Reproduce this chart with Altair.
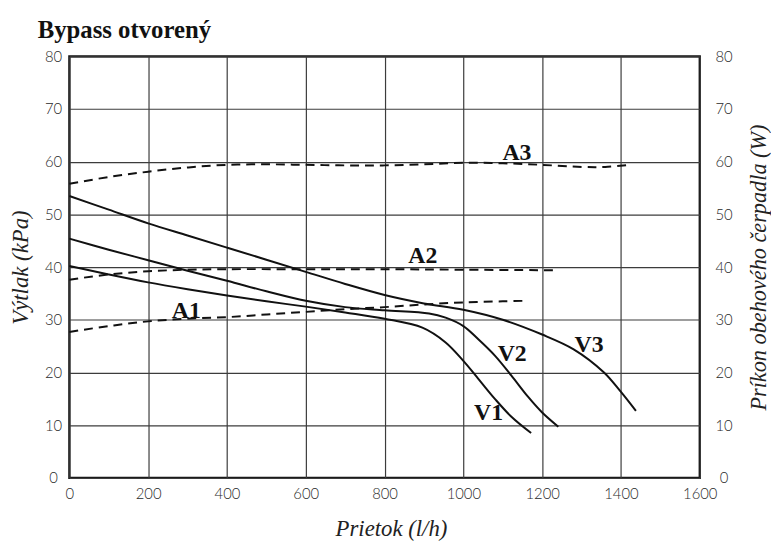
import altair as alt
import pandas as pd

# ---- data ----
# pressure curves (left axis, kPa)
v1_flow = [0, 100, 200, 300, 400, 500, 600, 700, 800, 896, 955, 1000, 1038, 1080, 1122, 1172]
v1_kpa = [40.2, 38.6, 37.1, 35.8, 34.6, 33.5, 32.5, 31.4, 30.2, 28.5, 25.7, 22.2, 18.8, 15.0, 11.6, 8.5]

v2_flow = [0, 100, 200, 300, 400, 500, 600, 700, 800, 913, 955, 1000, 1038, 1080, 1122, 1164, 1200, 1241]
v2_kpa = [45.4, 43.3, 41.3, 39.3, 37.4, 35.4, 33.6, 32.4, 31.8, 31.2, 30.4, 28.8, 26.3, 23.2, 19.4, 15.4, 12.4, 9.7]

v3_flow = [0, 100, 200, 300, 400, 500, 600, 700, 800, 900, 1000, 1100, 1200, 1280, 1357, 1400, 1438]
v3_kpa = [53.5, 50.9, 48.3, 46.0, 43.7, 41.4, 39.1, 36.8, 34.7, 33.1, 31.9, 30.0, 27.2, 24.4, 20.0, 16.3, 12.7]

# power curves (right axis, W)
a1_flow = [0, 100, 200, 300, 400, 500, 600, 700, 800, 900, 1000, 1100, 1156]
a1_w = [27.7, 28.8, 29.7, 30.2, 30.5, 31.0, 31.5, 32.0, 32.4, 32.9, 33.3, 33.5, 33.6]

a2_flow = [0, 100, 200, 300, 400, 600, 800, 1000, 1240]
a2_w = [37.6, 38.6, 39.2, 39.5, 39.6, 39.6, 39.6, 39.5, 39.4]

a3_flow = [0, 100, 200, 300, 400, 500, 600, 700, 800, 900, 1000, 1100, 1200, 1300, 1360, 1420]
a3_w = [55.8, 57.1, 58.1, 58.9, 59.4, 59.5, 59.4, 59.3, 59.3, 59.5, 59.8, 59.7, 59.4, 59.0, 59.0, 59.4]

# curve labels
label_text = ["V1", "V2", "V3", "A1", "A2", "A3"]
label_flow = [1064, 1124, 1319, 297, 897, 1136]
label_val = [10.95, 22.2, 23.8, 30.4, 40.7, 60.4]

x_ticks = [0, 200, 400, 600, 800, 1000, 1200, 1400, 1600]
y_ticks = [0, 10, 20, 30, 40, 50, 60, 70, 80]


def long(series):
    rows = []
    for name, xs, ys in series:
        for x, y in zip(xs, ys):
            rows.append({"series": name, "flow": x, "value": y})
    return pd.DataFrame(rows)


df_v = long([("V1", v1_flow, v1_kpa), ("V2", v2_flow, v2_kpa), ("V3", v3_flow, v3_kpa)])
df_a = long([("A1", a1_flow, a1_w), ("A2", a2_flow, a2_w), ("A3", a3_flow, a3_w)])
df_lab = pd.DataFrame({"label": label_text, "flow": label_flow, "value": label_val})

SERIF = "Liberation Serif"
SANS = "Lato"
INK = "#111111"
GRID = "#3c3c3c"
LABEL = "#2a2a2a"

xscale = alt.Scale(domain=[0, 1600], nice=False, zero=False)
yscale = alt.Scale(domain=[0, 80], nice=False)

x_axis = alt.Axis(
    values=x_ticks, format="d", title="Prietok (l/h)", grid=True, gridColor=GRID, gridWidth=1.2,
    domain=False, ticks=False, labelFont=SANS, labelFontWeight=300, labelFontSize=15,
    labelColor=LABEL, labelPadding=9, labelFlush=False, labelOverlap=False,
    titleFont=SERIF, titleFontStyle="italic", titleFontWeight="normal", titleFontSize=23,
    titleColor="#222222", titleX=325, titleY=58, titleBaseline="alphabetic",
)

left_axis = alt.Axis(
    orient="left", values=y_ticks, format="d", title="Výtlak (kPa)", grid=True, gridColor=GRID,
    gridWidth=1.2, domain=False, ticks=False, labelFont=SANS, labelFontWeight=300,
    labelFontSize=15, labelColor=LABEL, labelAlign="center", labelPadding=16.5,
    labelOverlap=False, titleFont=SERIF, titleFontStyle="italic", titleFontWeight="normal",
    titleFontSize=23, titleColor="#222222", titleAngle=270, titleX=-42, titleY=213,
    titleBaseline="alphabetic",
)

right_axis = alt.Axis(
    orient="right", values=y_ticks, format="d", title="Príkon obehového čerpadla (W)", grid=False,
    domain=False, ticks=False, labelFont=SANS, labelFontWeight=300, labelFontSize=15,
    labelColor=LABEL, labelAlign="center", labelPadding=24, labelOverlap=False,
    titleFont=SERIF, titleFontStyle="italic", titleFontWeight="normal", titleFontSize=22.5,
    titleColor="#222222", titleAngle=270, titleX=66, titleY=213, titleBaseline="alphabetic",
)

v_lines = alt.Chart(df_v).mark_line(color=INK, strokeWidth=2, interpolate="catmull-rom").encode(
    x=alt.X("flow:Q", scale=xscale, axis=x_axis),
    y=alt.Y("value:Q", scale=yscale, axis=left_axis),
    detail="series:N",
)

a_lines = alt.Chart(df_a).mark_line(
    color=INK, strokeWidth=2, strokeDash=[9, 6], interpolate="catmull-rom"
).encode(
    x=alt.X("flow:Q", scale=xscale, axis=x_axis),
    y=alt.Y("value:Q", scale=yscale, axis=right_axis),
    detail="series:N",
)

labels = alt.Chart(df_lab).mark_text(
    font=SERIF, fontWeight="bold", fontSize=24, color=INK, align="center", baseline="alphabetic"
).encode(
    x=alt.X("flow:Q", scale=xscale, axis=x_axis),
    y=alt.Y("value:Q", scale=yscale, axis=None),
    text="label:N",
)

chart = (
    alt.layer(v_lines, a_lines, labels)
    .resolve_scale(y="independent")
    .properties(
        width=637,
        height=426,
        autosize=alt.AutoSizeParams(type="none"),
        padding={"left": 62, "top": 46, "right": 72, "bottom": 62},
        title=alt.TitleParams(
            "Bypass otvorený", anchor="start", frame="group", font=SERIF, fontWeight="bold",
            fontSize=25, color=INK, offset=12, baseline="alphabetic", dx=-32, dy=26,
        ),
    )
    .configure_view(stroke=INK, strokeWidth=2.3)
)

chart.save("out.html", embed_options={"renderer": "svg", "actions": False})
